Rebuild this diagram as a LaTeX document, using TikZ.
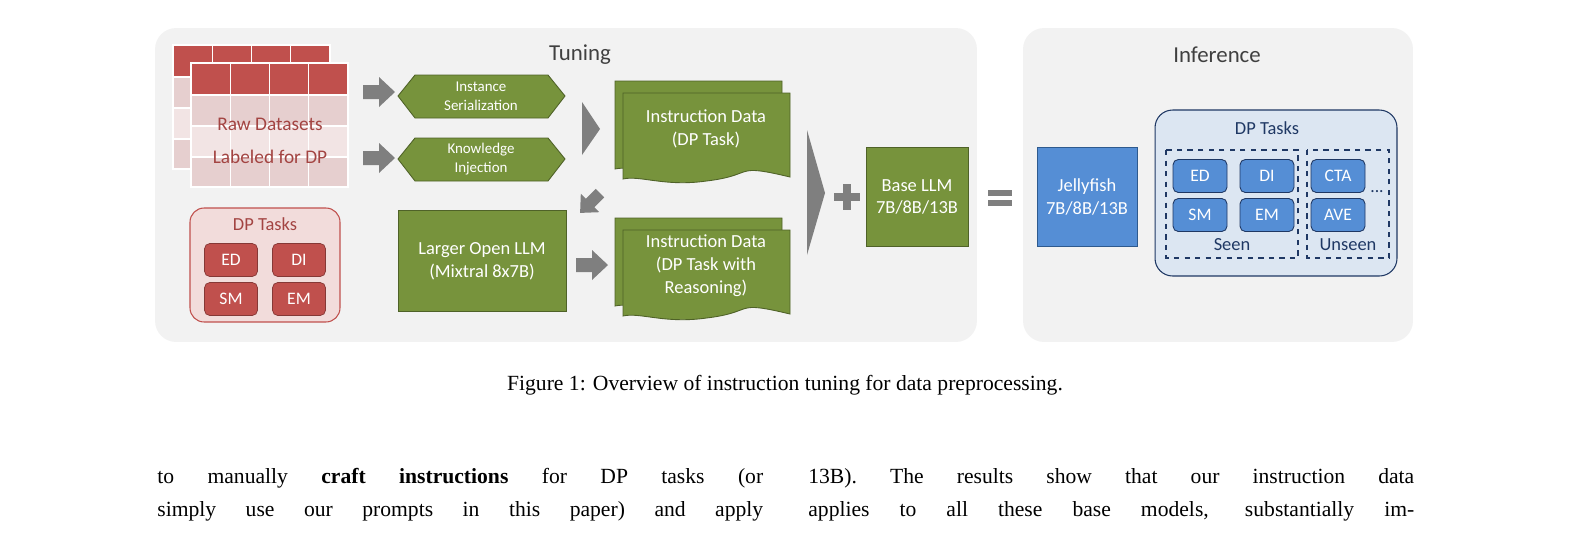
\documentclass[tikz,border=0pt]{standalone}
\usepackage{fontspec}
\setmainfont{Liberation Serif}
\newfontfamily\calfnt{Carlito}
\usetikzlibrary{shapes.geometric}
\definecolor{panel}{HTML}{F2F2F2}
\definecolor{dred}{HTML}{C0504D}
\definecolor{lred}{HTML}{F2DCDB}
\definecolor{rowa}{HTML}{E6CFCF}
\definecolor{rowb}{HTML}{F2E4E4}
\definecolor{grn}{HTML}{77933C}
\definecolor{dgrn}{HTML}{4F6228}
\definecolor{gry}{HTML}{7F7F7F}
\definecolor{blu}{HTML}{558ED5}
\definecolor{dblu}{HTML}{2E5A8E}
\definecolor{lblu}{HTML}{DCE6F2}
\definecolor{navy}{HTML}{1F3864}
\definecolor{txt}{HTML}{404040}
\tikzset{
 x=0.02cm,y=-0.02cm,
 panelbox/.style={fill=panel,draw=none,rounded corners=12},
 title/.style={font=\calfnt\fontsize{13}{15}\selectfont,text=txt},
 gbox/.style={fill=grn,draw=dgrn,line width=0.5pt},
 gtext/.style={font=\calfnt\fontsize{10.5}{13}\selectfont,text=white,align=center},
 redchip/.style={fill=dred,draw=dred!70!black,rounded corners=3,line width=0.4pt,minimum width=1.06cm,minimum height=0.66cm,text=white,font=\calfnt\fontsize{10}{12}\selectfont},
 bluchip/.style={fill=blu,draw=navy,rounded corners=3,line width=0.5pt,minimum width=1.08cm,minimum height=0.66cm,text=white,font=\calfnt\fontsize{10}{12}\selectfont},
 dashbox/.style={draw=navy,dashed,line width=0.6pt},
 barrow/.pic={\fill[gry] (-16,-7)--(0,-7)--(0,-15)--(16,0)--(0,15)--(0,7)--(-16,7)--cycle;},
 body/.style={font=\fontsize{12.3}{15}\selectfont,anchor=west,inner sep=0},
}
\newcommand\mytable[2]{%
 \begin{scope}[shift={(#1,#2)}]
  \fill[dred] (0,0) rectangle (157,32);
  \fill[rowa] (0,32) rectangle (157,63);
  \fill[rowb] (0,63) rectangle (157,94);
  \fill[rowa] (0,94) rectangle (157,124);
  \foreach \c in {39.25,78.5,117.75}{\draw[white,line width=0.8pt] (\c,0)--(\c,124);}
  \foreach \r in {32,63,94}{\draw[white,line width=0.8pt] (0,\r)--(157,\r);}
  \draw[white,line width=0.8pt] (0,0) rectangle (157,124);
 \end{scope}}
\newcommand\mydoc[4]{% x y w h
 \fill[grn,draw=dgrn,line width=0.5pt] (#1,#2) -- ++(#3,0) -- ++(0,#4-8)
   .. controls ++(-#3*0.35,-14) and ++(#3*0.3,-6) .. ++(-#3*0.5,4)
   .. controls ++(-#3*0.25,6) and ++(#3*0.1,-4) .. ++(-#3*0.5,-2) -- cycle;}
\begin{document}
\begin{tikzpicture}
\useasboundingbox (0,0) rectangle (1571,535);
\fill[white] (0,0) rectangle (1571,535);
\node[panelbox,minimum width=16.44cm,minimum height=6.28cm] (tun) at (566,185) {};
\node[panelbox,minimum width=7.8cm,minimum height=6.28cm] (inf) at (1218,185) {};
\node[title] (tt) at (580,55) {Tuning};
\node[title] (it) at (1217,55) {Inference};
% tables
\mytable{173}{45}
\mytable{191}{63}
\node[font=\calfnt\fontsize{11}{19}\selectfont,text=dred!85!black,align=center] (raw) at (270,141) {Raw Datasets\\Labeled for DP};
% red DP tasks
\node[fill=lred,draw=dred,rounded corners=8,line width=0.6pt,minimum width=3cm,minimum height=2.28cm] (rdp) at (265,265) {};
\node[font=\calfnt\fontsize{10.5}{12}\selectfont,text=dred!85!black] (rdpt) at (265,224) {DP Tasks};
\node[redchip] (red1) at (231,260) {ED};
\node[redchip] (red2) at (299,260) {DI};
\node[redchip] (red3) at (231,299) {SM};
\node[redchip] (red4) at (299,299) {EM};
% arrows
\pic at (379,92) {barrow};
\pic at (379,158) {barrow};
% hexagons
\draw[gbox] (398,96)--(415,75)--(548,75)--(565,96)--(548,118)--(415,118)--cycle;
\node[gtext,font=\calfnt\fontsize{8.5}{11}\selectfont] (ser) at (481,96) {Instance\\Serialization};
\draw[gbox] (398,159)--(415,138)--(548,138)--(565,159)--(548,181)--(415,181)--cycle;
\node[gtext,font=\calfnt\fontsize{8.5}{11}\selectfont] (kin) at (481,159) {Knowledge\\Injection};
\fill[gry] (582,102)--(600,129)--(582,155)--cycle;
% diagonal arrow
\begin{scope}[shift={(590,203)},rotate=-135]
 \fill[gry] (-14,-6)--(0,-6)--(0,-13)--(14,0)--(0,13)--(0,6)--(-14,6)--cycle;
\end{scope}
% larger LLM
\node[gbox,minimum width=3.36cm,minimum height=2.02cm] (llm) at (482,261) {};
\node[gtext] (llmt) at (482,261) {Larger Open LLM\\(Mixtral 8x7B)};
\pic at (592,265) {barrow};
% documents
\mydoc{615}{81}{167}{94}
\mydoc{623}{93}{167}{92}
\node[gtext] (id1) at (706,129) {Instruction Data\\(DP Task)};
\mydoc{615}{218}{167}{94}
\mydoc{623}{230}{167}{92}
\node[gtext] (id2) at (706,266) {Instruction Data\\(DP Task with\\Reasoning)};
% big chevron
\fill[gry] (807,130)--(825,193)--(807,255)--cycle;
% plus
\fill[gry] (834,193) rectangle (860,201);
\fill[gry] (843,184) rectangle (851,210);
% base llm
\node[gbox,minimum width=2.04cm,minimum height=1.98cm] (base) at (917,197) {};
\node[gtext] (baset) at (917,197) {Base LLM\\7B/8B/13B};
% equals
\fill[gry] (988,190) rectangle (1012,196);
\fill[gry] (988,200) rectangle (1012,206);
% jellyfish
\node[fill=blu,draw=dblu,line width=0.5pt,minimum width=2cm,minimum height=1.98cm] (jf) at (1087,197) {};
\node[gtext] (jft) at (1087,197) {Jellyfish\\7B/8B/13B};
% blue dp tasks
\node[fill=lblu,draw=navy,rounded corners=10,line width=0.6pt,minimum width=4.84cm,minimum height=3.32cm] (bdp) at (1276,193) {};
\node[font=\calfnt\fontsize{10.5}{12}\selectfont,text=navy] (bdpt) at (1267,128) {DP Tasks};
\draw[dashbox] (1166,150) rectangle (1298,258);
\draw[dashbox] (1307,150) rectangle (1389,258);
\node[bluchip] (b1) at (1200,176) {ED};
\node[bluchip] (b2) at (1267,176) {DI};
\node[bluchip] (b3) at (1200,215) {SM};
\node[bluchip] (b4) at (1267,215) {EM};
\node[bluchip] (b5) at (1338,176) {CTA};
\node[bluchip] (b6) at (1338,215) {AVE};
\node[font=\calfnt\fontsize{10}{12}\selectfont,text=navy] (dots) at (1377,192) {...};
\node[font=\calfnt\fontsize{10.5}{12}\selectfont,text=navy] (seen) at (1232,245) {Seen};
\node[font=\calfnt\fontsize{10.5}{12}\selectfont,text=navy] (unseen) at (1348,245) {Unseen};
% caption and text
\node[font=\fontsize{12.3}{15}\selectfont] (cap) at (785,385) {Figure 1: Overview of instruction tuning for data preprocessing.};
\node[body] (l1) at (157,478) {\makebox[12.12cm][s]{to manually \textbf{craft instructions} for DP tasks (or}};
\node[body] (l2) at (157,511) {\makebox[12.12cm][s]{simply use our prompts in this paper) and apply}};
\node[body] (r1) at (808,478) {\makebox[12.12cm][s]{13B). The results show that our instruction data}};
\node[body] (r2) at (808,511) {\makebox[12.12cm][s]{applies to all these base models, substantially im-}};
\end{tikzpicture}
\end{document}
